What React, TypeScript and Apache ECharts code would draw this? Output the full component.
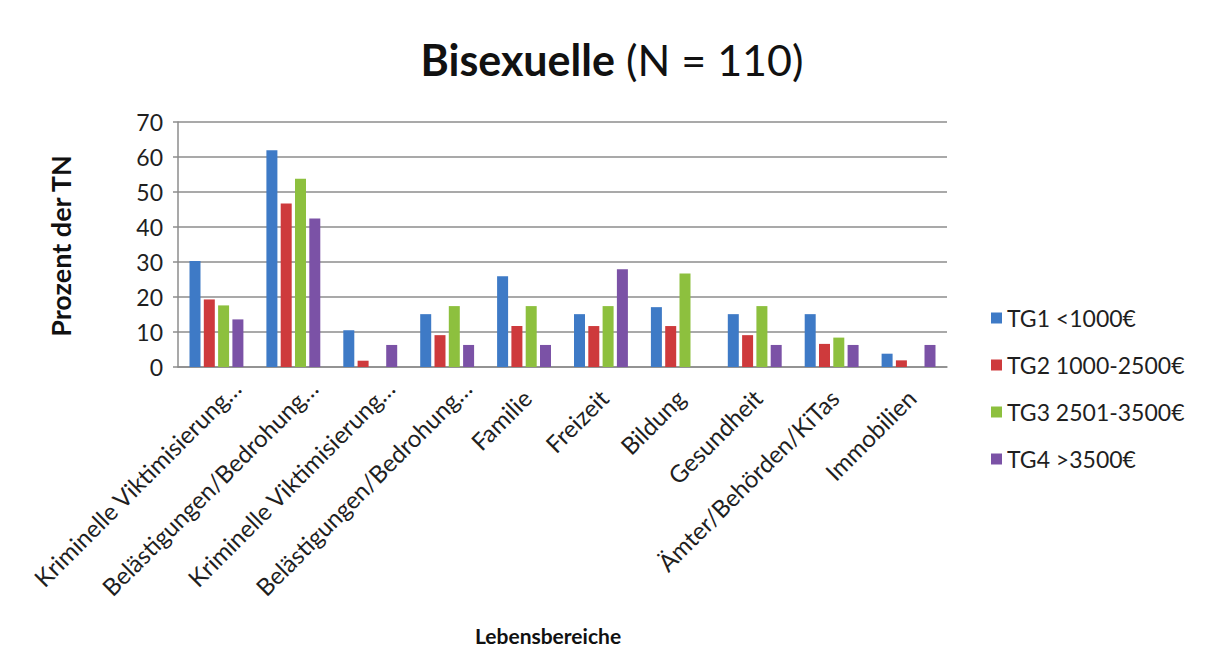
import React, { useEffect, useRef } from "react";
import * as echarts from "echarts";

const categories = [
  "Kriminelle Viktimisierung…",
  "Belästigungen/Bedrohung…",
  "Kriminelle Viktimisierung…",
  "Belästigungen/Bedrohung…",
  "Familie",
  "Freizeit",
  "Bildung",
  "Gesundheit",
  "Ämter/Behörden/KiTas",
  "Immobilien",
];

const seriesNames = ["TG1 <1000€", "TG2 1000-2500€", "TG3 2501-3500€", "TG4 >3500€"];

const tg1 = [30.3, 61.9, 10.5, 15.1, 25.9, 15.1, 17.1, 15.1, 15.1, 3.8];
const tg2 = [19.3, 46.7, 1.8, 9.1, 11.7, 11.7, 11.7, 9.1, 6.6, 1.9];
const tg3 = [17.6, 53.8, 0, 17.4, 17.4, 17.4, 26.7, 17.4, 8.4, 0];
const tg4 = [13.6, 42.4, 6.3, 6.3, 6.3, 27.9, 0, 6.3, 6.3, 6.3];

const colors = ["#3E7AC6", "#CE3A3C", "#8DC03E", "#7B52A6"];
const yTicks = { min: 0, max: 70, interval: 10 };

const FONT = "Lato, 'Open Sans', sans-serif";

export default function App() {
  const ref = useRef<HTMLDivElement>(null);

  useEffect(() => {
    document.body.style.margin = "0";
    if (!ref.current) return;
    const chart = echarts.init(ref.current, null, { renderer: "svg" });
    const values = [tg1, tg2, tg3, tg4];
    const axisData = categories.map((c) => ({
      value: c,
      textStyle: {
        verticalAlign: "top",
        align: "right",
        padding: c.endsWith("…") ? [16, 0, 0, 0] : [11, 19, 0, 0],
      },
    }));
    chart.setOption({
      animation: false,
      backgroundColor: "#ffffff",
      textStyle: { fontFamily: FONT, color: "#1f1f1f" },
      title: {
        text: "{b|Bisexuelle}{r| (N = 110)}",
        left: 607,
        textAlign: "center",
        top: 33,
        textStyle: {
          rich: {
            b: { fontFamily: FONT, fontSize: 43, fontWeight: "bold", color: "#111" },
            r: { fontFamily: FONT, fontSize: 43, fontWeight: "normal", color: "#111" },
          },
        },
      },
      legend: {
        orient: "vertical",
        left: 986,
        top: 301,
        icon: "rect",
        itemWidth: 11,
        itemHeight: 11,
        itemGap: 23,
        data: seriesNames,
        textStyle: { fontFamily: FONT, fontSize: 23, color: "#1f1f1f", lineHeight: 24 },
      },
      grid: { left: 178, right: 261, top: 122, bottom: 303, containLabel: false },
      xAxis: {
        type: "category",
        data: axisData,
        axisLine: { show: true, lineStyle: { color: "#8c8c8c", width: 1.5 } },
        axisTick: { show: false },
        axisLabel: {
          rotate: 45,
          margin: -3,
          interval: 0,
          fontFamily: FONT,
          fontSize: 24,
          lineHeight: 24,
          verticalAlign: "top",
          padding: [16, 0, 0, 0],
          color: "#1f1f1f",
        },
      },
      yAxis: {
        type: "value",
        min: yTicks.min,
        max: yTicks.max,
        interval: yTicks.interval,
        axisLine: { show: true, lineStyle: { color: "#8c8c8c", width: 1.5 } },
        axisTick: { show: true, length: 5, lineStyle: { color: "#8c8c8c", width: 1.5 } },
        axisLabel: { fontFamily: FONT, fontSize: 23, color: "#1f1f1f", margin: 15 },
        splitLine: { show: true, lineStyle: { color: "#8c8c8c", width: 1.5 } },
      },
      graphic: [
        {
          type: "text",
          x: 60,
          y: 246,
          rotation: Math.PI / 2,
          style: {
            text: "Prozent der TN",
            fontFamily: FONT,
            fontSize: 27,
            fontWeight: "bold",
            fill: "#111",
            align: "center",
            verticalAlign: "middle",
          },
        },
        {
          type: "text",
          x: 548,
          y: 635,
          style: {
            text: "Lebensbereiche",
            fontFamily: FONT,
            fontSize: 21,
            fontWeight: "bold",
            fill: "#111",
            align: "center",
            verticalAlign: "middle",
          },
        },
      ],
      series: seriesNames.map((name, i) => ({
        name,
        type: "bar",
        data: values[i],
        barWidth: 11,
        barGap: "30%",
        itemStyle: { color: colors[i] },
      })),
    });
    return () => chart.dispose();
  }, []);

  return <div ref={ref} style={{ width: 1208, height: 670 }} />;
}
